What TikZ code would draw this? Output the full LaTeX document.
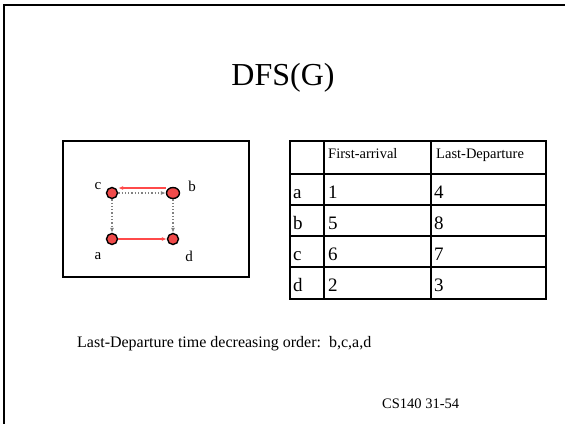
\documentclass[tikz,border=0pt]{standalone}
\usepackage{fontspec}
\setmainfont{Liberation Serif}
\usetikzlibrary{arrows.meta,shapes.geometric}
\definecolor{vred}{HTML}{F04A4A}
\definecolor{ered}{HTML}{FF4A4A}
\definecolor{egray}{HTML}{808080}
\begin{document}
\begin{tikzpicture}[x=1pt,y=-1pt,
  vertex/.style={ellipse,draw=black,fill=vred,line width=1.4pt,minimum width=11pt,minimum height=11pt,inner sep=0pt},
  vlabel/.style={font=\fontsize{15}{15}\selectfont,inner sep=0pt},
  tree/.style={draw=ered,line width=1.6pt,-{Latex[length=5pt,width=4pt]}},
  back/.style={draw=egray,line width=1.3pt,dotted,-{Latex[length=5pt,width=4pt]}},
  frame/.style={line width=2pt},
  grid/.style={line width=1.5pt},
  cell/.style={anchor=base west,inner sep=0pt,font=\fontsize{19}{19}\selectfont},
  head/.style={anchor=base west,inner sep=0pt,font=\fontsize{14.5}{14.5}\selectfont}]
\useasboundingbox (0,0) rectangle (565,424);
% slide frame (top and left edges)
\draw[frame] (565,5) -- (4,5) -- (4,424);
% title
\node[font=\fontsize{32}{32}\selectfont] (title) at (283,78) {DFS(G)};
% graph panel
\draw[grid] (63,141) rectangle (249,277);
\node[vertex] (c) at (112,193) {};
\node[vertex,minimum width=13pt] (b) at (173,193) {};
\node[vertex] (a) at (112,239) {};
\node[vertex] (d) at (173,239) {};
\node[vlabel] (lc) at (98,186) {c};
\node[vlabel] (lb) at (192,186) {b};
\node[vlabel] (la) at (98,256) {a};
\node[vlabel] (ld) at (189,256) {d};
\draw[tree] ([yshift=5pt]b.west) -- ([yshift=5pt]c.east);
\draw[back] (c.east) -- (b.west);
\draw[back] (c.south) -- (a.north);
\draw[back] (b.south) -- (d.north);
\draw[tree] (a.east) -- (d.west);
% table of times
\draw[grid] (290,141) rectangle (546,299);
\foreach \yy in {174,205,236,267} \draw[grid] (290,\yy) -- (546,\yy);
\foreach \xx in {324,431} \draw[grid] (\xx,141) -- (\xx,299);
\node[head] (h1) at (328,158) {First-arrival};
\node[head] (h2) at (436,158) {Last-Departure};
\node[cell] (ra) at (293,198) {a};
\node[cell] (rb) at (293,229) {b};
\node[cell] (rc) at (293,260) {c};
\node[cell] (rd) at (293,291) {d};
\node[cell] (fa) at (328,198) {1};
\node[cell] (fb) at (328,229) {5};
\node[cell] (fc) at (328,260) {6};
\node[cell] (fd) at (328,291) {2};
\node[cell] (la2) at (434,198) {4};
\node[cell] (lb2) at (434,229) {8};
\node[cell] (lc2) at (434,260) {7};
\node[cell] (ld2) at (434,291) {3};
% order line and footer
\node[anchor=base west,inner sep=0pt,font=\fontsize{16}{16}\selectfont] (order) at (77,347) {Last-Departure time decreasing order:\ \ b,c,a,d};
\node[anchor=base west,inner sep=0pt,font=\fontsize{14.5}{14.5}\selectfont] (foot) at (382,408) {CS140 31-54};
\end{tikzpicture}
\end{document}
